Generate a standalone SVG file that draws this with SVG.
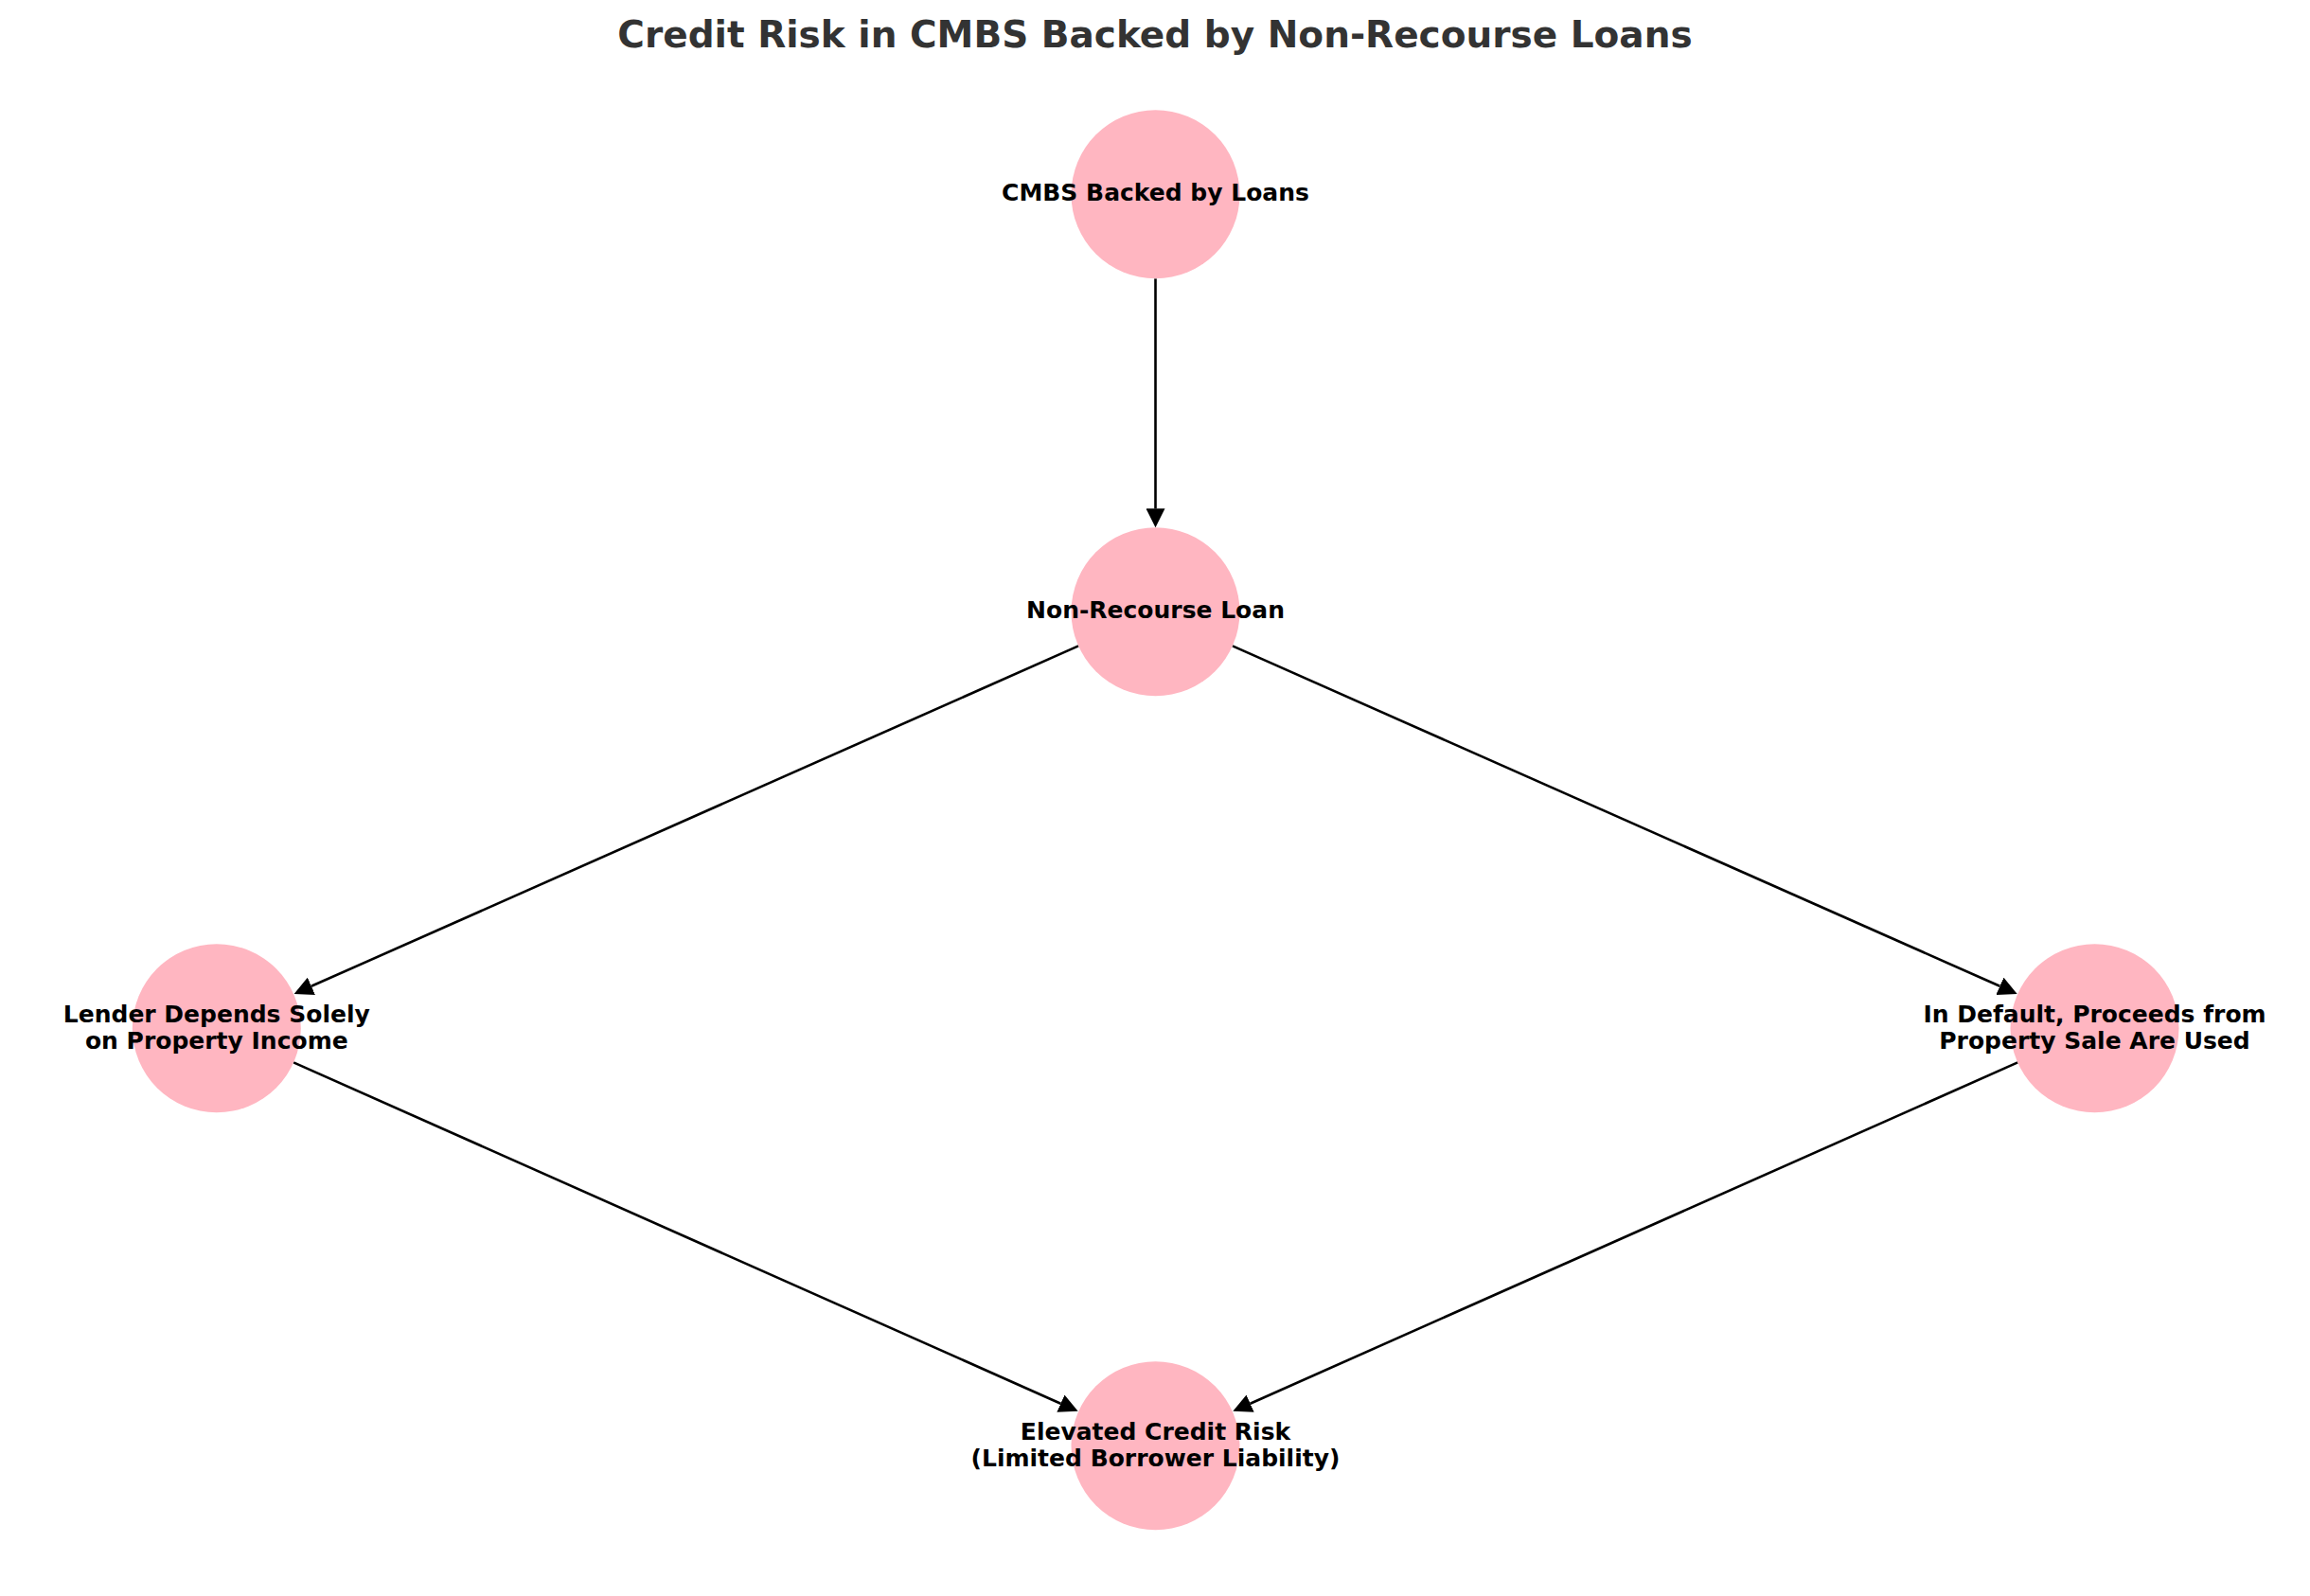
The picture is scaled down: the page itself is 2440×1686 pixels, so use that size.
<svg xmlns="http://www.w3.org/2000/svg" width="2440" height="1686" viewBox="0 0 2440 1686">
<style>
.node{fill:#FFB6C1}
.lbl{font-family:"DejaVu Sans",sans-serif;font-weight:bold;font-size:25px;fill:#000;text-anchor:middle}
.title{font-family:"DejaVu Sans",sans-serif;font-weight:bold;font-size:39px;fill:#333333;text-anchor:middle}
.edge{stroke:#000;stroke-width:2.6;fill:none;marker-end:url(#arr)}
</style>
<defs>
<marker id="arr" viewBox="0 0 20 20" refX="0" refY="10" markerWidth="20" markerHeight="20" markerUnits="userSpaceOnUse" orient="auto">
<path d="M0,0 L20,10 L0,20 z" fill="#000"/>
</marker>
</defs>
<rect width="2440" height="1686" fill="#fff"/>
<text class="title" x="1220" y="50">Credit Risk in CMBS Backed by Non-Recourse Loans</text>
<g id="connectors">
<line class="edge" x1="1220.5" y1="294.3" x2="1220.5" y2="537.3"/>
<line class="edge" x1="1139.1" y1="682.4" x2="328.9" y2="1041.8"/>
<line class="edge" x1="1301.9" y1="682.4" x2="2112.4" y2="1041.8"/>
<line class="edge" x1="310.1" y1="1122.4" x2="1120.4" y2="1482.7"/>
<line class="edge" x1="2131.2" y1="1122.4" x2="1320.6" y2="1482.7"/>
</g>
<g id="node-cmbs">
<circle class="node" cx="1220.5" cy="205.3" r="89"/>
<text class="lbl" x="1220.5" y="212">CMBS Backed by Loans</text>
</g>
<g id="node-nonrecourse">
<circle class="node" cx="1220.5" cy="646.3" r="89"/>
<text class="lbl" x="1220.5" y="653">Non-Recourse Loan</text>
</g>
<g id="node-lender">
<circle class="node" cx="228.8" cy="1086.2" r="89"/>
<text class="lbl" x="228.8" y="1080">Lender Depends Solely</text>
<text class="lbl" x="228.8" y="1108.3">on Property Income</text>
</g>
<g id="node-default">
<circle class="node" cx="2212.5" cy="1086.2" r="89"/>
<text class="lbl" x="2212.5" y="1080">In Default, Proceeds from</text>
<text class="lbl" x="2212.5" y="1108.3">Property Sale Are Used</text>
</g>
<g id="node-elevated">
<circle class="node" cx="1220.5" cy="1527.2" r="89"/>
<text class="lbl" x="1220.5" y="1520.7">Elevated Credit Risk</text>
<text class="lbl" x="1220.5" y="1549">(Limited Borrower Liability)</text>
</g>
</svg>
